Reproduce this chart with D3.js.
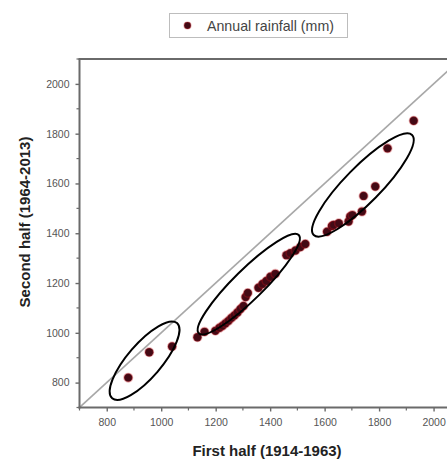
<!DOCTYPE html>
<html><head><meta charset="utf-8">
<script src="https://cdn.jsdelivr.net/npm/d3@7"></script>
<style>html,body{margin:0;padding:0;background:#fff;overflow:hidden}</style>
</head><body>
<script>
// ---- data ----
const firstHalf = [879,956,1040,1133,1159,1199,1214,1225,1236,1247,1258,1269,1280,1291,1302,1310,1318,1357,1372,1386,1401,1419,1460,1474,1493,1511,1529,1609,1627,1633,1652,1688,1694,1702,1737,1743,1786,1831,1927];
const secondHalf = [820,922,945,982,1004,1008,1020,1028,1038,1048,1060,1070,1082,1096,1108,1144,1160,1181,1196,1208,1225,1237,1312,1320,1331,1345,1357,1406,1429,1433,1440,1447,1467,1473,1487,1550,1588,1741,1852];
const xTicks = [800,1000,1200,1400,1600,1800,2000];
const yTicks = [800,1000,1200,1400,1600,1800,2000];
const minorTicks = [700,900,1100,1300,1500,1700,1900,2100];
// ellipse annotations: tips of the major axis (data units)
const ellipseX1 = [820,1138,1560];
const ellipseY1 = [737,998,1393];
const ellipseX2 = [1058,1505,1921];
const ellipseY2 = [1039,1393,1795];
const ellipseHalfWidth = [17,15,18];
const legendLabel = "Annual rainfall (mm)";
const xTitle = "First half (1914-1963)";
const yTitle = "Second half (1964-2013)";

const W = 447, H = 459;
const svg = d3.select("body").append("svg").attr("width", W).attr("height", H)
  .style("font-family", "Liberation Sans, Arial, sans-serif");

const x = d3.scaleLinear().domain([700, 2100]).range([79.5, 460.8]);
const y = d3.scaleLinear().domain([700, 2100]).range([407.5, 59]);

const axisColor = "#6a6a6a";

// clip
svg.append("clipPath").attr("id","clip").append("rect")
  .attr("x", x(700)).attr("y", y(2100)).attr("width", x(2100)-x(700)).attr("height", y(700)-y(2100));

// diagonal 1:1 line
svg.append("line").attr("clip-path","url(#clip)")
  .attr("x1", x(700)).attr("y1", y(700)).attr("x2", x(2100)).attr("y2", y(2100))
  .attr("stroke", "#a8a8a8").attr("stroke-width", 1.6);

// points
const pts = firstHalf.map((v,i)=>({x:v, y:secondHalf[i]}));
svg.append("g").selectAll("circle").data(pts).join("circle")
  .attr("cx", d=>x(d.x)).attr("cy", d=>y(d.y)).attr("r", 4.2)
  .attr("fill", "#430a15").attr("stroke", "rgba(190,20,30,0.35)").attr("stroke-width", 1.6);

// ellipses
ellipseX1.forEach((_, i) => {
  const px1 = x(ellipseX1[i]), py1 = y(ellipseY1[i]);
  const px2 = x(ellipseX2[i]), py2 = y(ellipseY2[i]);
  const cx = (px1+px2)/2, cy = (py1+py2)/2;
  const rx = Math.hypot(px2-px1, py2-py1)/2;
  const ang = Math.atan2(py2-py1, px2-px1)*180/Math.PI;
  svg.append("ellipse").attr("cx", cx).attr("cy", cy).attr("rx", rx).attr("ry", ellipseHalfWidth[i])
    .attr("transform", `rotate(${ang},${cx},${cy})`)
    .attr("fill", "none").attr("stroke", "#000").attr("stroke-width", 2);
});

// axes
const xAxis = svg.append("g").attr("transform", `translate(0,${y(700)})`)
  .call(d3.axisBottom(x).tickValues(xTicks).tickSize(4).tickPadding(7).tickFormat(d3.format("d")));
const yAxis = svg.append("g").attr("transform", `translate(${x(700)},0)`)
  .call(d3.axisLeft(y).tickValues(yTicks).tickSize(4).tickPadding(6).tickFormat(d3.format("d")));
[xAxis, yAxis].forEach(g => {
  g.select(".domain").remove();
  g.selectAll(".tick line").attr("stroke", axisColor).attr("stroke-width", 1.4);
  g.selectAll(".tick text").attr("fill", "#555").style("font-size", "10.5px");
});
// minor ticks
svg.append("g").selectAll("line").data(minorTicks).join("line")
  .attr("x1", d=>x(d)).attr("x2", d=>x(d)).attr("y1", y(700)).attr("y2", y(700)+3)
  .attr("stroke", axisColor).attr("stroke-width", 1.2);
svg.append("g").selectAll("line").data(minorTicks).join("line")
  .attr("y1", d=>y(d)).attr("y2", d=>y(d)).attr("x1", x(700)).attr("x2", x(700)-3)
  .attr("stroke", axisColor).attr("stroke-width", 1.2);
// frame lines
svg.append("line").attr("x1", x(700)).attr("x2", x(700)).attr("y1", y(2100)).attr("y2", y(700)+1)
  .attr("stroke", axisColor).attr("stroke-width", 2);
svg.append("line").attr("x1", x(700)-1).attr("x2", x(2100)).attr("y1", y(700)).attr("y2", y(700))
  .attr("stroke", axisColor).attr("stroke-width", 2);
svg.append("line").attr("x1", x(700)-1).attr("x2", x(2100)).attr("y1", y(2100)).attr("y2", y(2100))
  .attr("stroke", axisColor).attr("stroke-width", 2);

// axis titles
svg.append("text").attr("x", 267).attr("y", 456).attr("text-anchor", "middle")
  .style("font-size", "15px").style("font-weight", "bold").attr("fill", "#222").text(xTitle);
svg.append("text").attr("transform", "translate(30,222) rotate(-90)").attr("text-anchor", "middle")
  .style("font-size", "15px").style("font-weight", "bold").attr("fill", "#222").text(yTitle);

// legend
svg.append("rect").attr("x", 169.5).attr("y", 13.5).attr("width", 178).attr("height", 24)
  .attr("fill", "#fff").attr("stroke", "#bdbdbd").attr("stroke-width", 1);
svg.append("circle").attr("cx", 187.5).attr("cy", 25.5).attr("r", 3.4)
  .attr("fill", "#430a15").attr("stroke", "rgba(190,20,30,0.35)").attr("stroke-width", 1.4);
svg.append("text").attr("x", 207).attr("y", 30.5).style("font-size", "14.2px").attr("fill", "#444").text(legendLabel);
</script>
</body></html>
